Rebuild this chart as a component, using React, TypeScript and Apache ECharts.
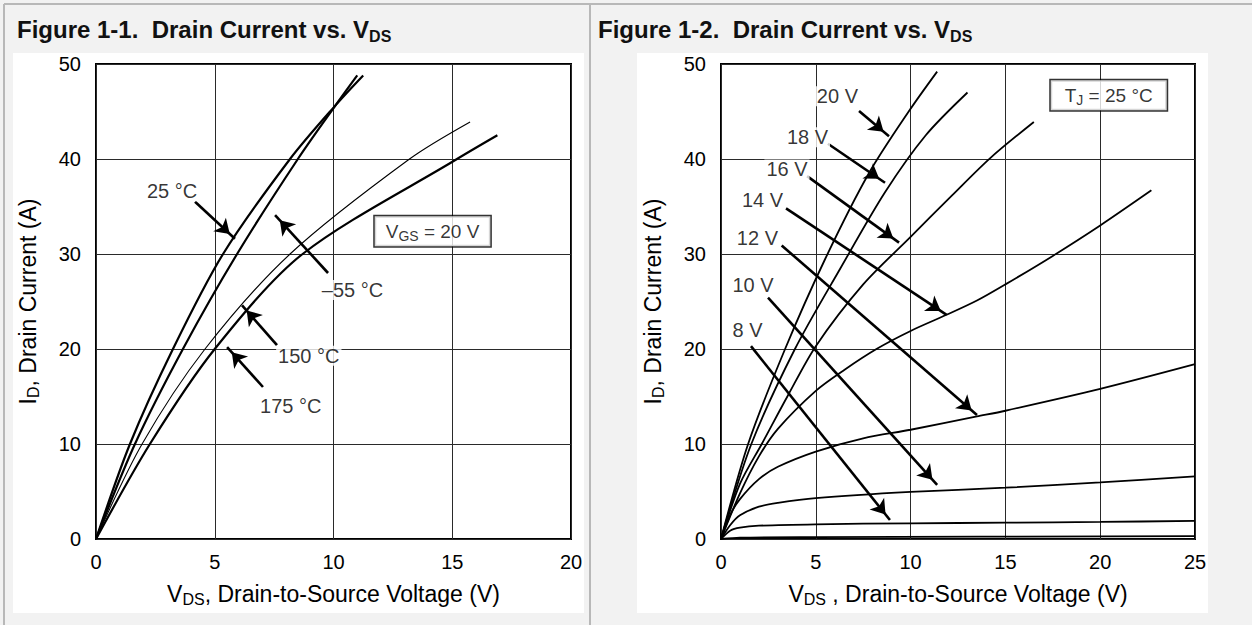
import React, { useEffect, useRef } from "react";
import * as echarts from "echarts";

const FONT = "'Liberation Sans', Arial, Helvetica, sans-serif";

// ---------- Figure 1-1 : I_D vs V_DS at V_GS = 20 V, by junction temperature ----------
const fig1XMax = 20;
const curveMinus55 = [[0, 0], [1.64, 10], [3.66, 20], [5.94, 30], [8.5, 40], [10.1, 45.7], [11.0, 48.8]];
const curve25 = [[0, 0], [1.43, 10], [3.24, 20], [5.35, 30], [8.17, 40], [10.1, 45.7], [11.25, 48.8]];
const curve150 = [[0, 0], [1.94, 10], [4.59, 20], [8.17, 30], [13.2, 40], [15.75, 43.9]];
const curve175 = [[0, 0], [2.27, 10], [5.0, 20], [8.7, 30], [15.2, 40], [16.9, 42.5]];
const fig1LabelText = ["25 °C", "–55 °C", "150 °C", "175 °C"];
const fig1LabelPos = [[3.2, 36.6], [10.8, 26.2], [8.96, 19.3], [8.2, 14.0]];
const fig1Arrows = [[4.17, 35.5, 5.85, 31.6], [9.77, 28.0, 7.54, 34.1], [7.62, 20.4, 6.15, 24.6], [7.03, 16.0, 5.52, 20.2]];
const fig1BoxPos = [14.17, 32.4];

// ---------- Figure 1-2 : I_D vs V_DS at T_J = 25 °C, by gate voltage ----------
const fig2XMax = 25;
const curve20V = [[0, 0], [1.43, 10], [3.38, 20], [5.5, 29.5], [7.8, 38.5], [9.9, 45], [11.4, 49.2]];
const curve18V = [[0, 0], [1.6, 10], [3.9, 20], [6.3, 28.5], [8.65, 36.5], [10.8, 42.5], [13, 47]];
const curve16V = [[0, 0], [1, 5.8], [2.15, 10], [3.5, 15], [5, 20.3], [7.5, 26.8], [10, 31.8], [12.2, 36.2], [14.2, 40.1], [16.5, 43.9]];
const curve14V = [[0, 0], [1, 4.8], [2, 8.7], [3, 11.6], [5, 15.6], [6.5, 17.8], [8.2, 20], [10, 21.9], [11.9, 23.6], [13.5, 25.1], [15, 26.8], [17.5, 29.8], [20, 33.0], [22.7, 36.7]];
const curve12V = [[0, 0], [0.5, 2.6], [1, 4.2], [2, 6.3], [3, 7.6], [5, 9.2], [7.5, 10.6], [10, 11.5], [13.5, 12.9], [15, 13.5], [20, 15.8], [25, 18.4]];
const curve10V = [[0, 0], [0.5, 1.5], [1, 2.5], [2, 3.4], [3, 3.8], [5, 4.3], [10, 4.95], [15, 5.4], [20, 5.95], [25, 6.6]];
const curve8V = [[0, 0], [0.5, 0.9], [1, 1.2], [2, 1.4], [5, 1.55], [10, 1.65], [15, 1.72], [20, 1.8], [25, 1.9]];
const curve6V = [[0, 0], [1, 0.15], [5, 0.2], [25, 0.3]];
const fig2LabelText = ["20 V", "18 V", "16 V", "14 V", "12 V", "10 V", "8 V"];
const fig2LabelPos = [[6.14, 46.6], [4.56, 42.3], [3.48, 38.9], [2.19, 35.7], [1.92, 31.7], [1.69, 26.7], [1.4, 22.05]];
const fig2Arrows = [
  [7.28, 45.05, 8.86, 42.4],
  [5.64, 41.6, 8.65, 37.5],
  [4.54, 38.2, 9.39, 31.2],
  [3.43, 34.8, 11.9, 23.6],
  [3.2, 30.9, 13.5, 13.05],
  [2.48, 25.4, 11.4, 5.7],
  [1.58, 20.3, 8.91, 2.0],
];
const fig2BoxPos = [20.45, 46.7];

const yMax = 50;
const tickStep = 5;
const yStep = 10;

function curve(name: string, data: number[][], idx: number, width: number) {
  return {
    type: "line",
    name,
    xAxisIndex: idx,
    yAxisIndex: idx,
    data,
    symbol: "none",
    showSymbol: false,
    smooth: 0.3,
    silent: true,
    z: 3,
    lineStyle: { color: "#000", width },
  };
}

function arrows(list: number[][], idx: number) {
  return {
    type: "line",
    xAxisIndex: idx,
    yAxisIndex: idx,
    data: [],
    silent: true,
    color: "#000",
    markLine: {
      silent: true,
      animation: false,
      symbol: ["none", "arrow"],
      symbolSize: 14,
      symbolOffset: [0, [0, 7]],
      label: { show: false },
      lineStyle: { color: "#000", width: 2.6, type: "solid" },
      itemStyle: { color: "#000" },
      data: list.map((a) => [{ coord: [a[0], a[1]] }, { coord: [a[2], a[3]] }]),
    },
  };
}

const labelRich = {
  m: { fontSize: 19, lineHeight: 24, fontFamily: FONT, color: "#000" },
  s: { fontSize: 14, lineHeight: 14, padding: [9, 0, 0, 0], fontFamily: FONT, color: "#000" },
};

function labels(texts: string[], pos: number[][], idx: number, box: number[], boxText: string, boxPad: number) {
  const items: any[] = texts.map((t, i) => ({ value: pos[i], label: { formatter: t } }));
  items.push({
    value: box,
    label: {
      formatter: boxText,
      backgroundColor: "#fff",
      borderColor: "#000",
      borderWidth: 1.5,
      padding: [3, boxPad, 3, boxPad],
      rich: labelRich,
    },
  });
  return {
    type: "scatter",
    xAxisIndex: idx,
    yAxisIndex: idx,
    symbolSize: 1,
    silent: true,
    z: 6,
    itemStyle: { color: "rgba(0,0,0,0)" },
    label: {
      show: true,
      position: "inside",
      color: "#000",
      fontSize: 20,
      fontFamily: FONT,
      backgroundColor: "#fff",
      padding: [0, 2],
    },
    data: items,
  };
}

const nameRich = {
  m: { fontSize: 23, lineHeight: 28, fontFamily: FONT, color: "#000" },
  s: { fontSize: 16, lineHeight: 16, padding: [11, 0, 0, 0], fontFamily: FONT, color: "#000" },
};

function xAxis(idx: number, max: number, name: string) {
  return {
    type: "value",
    gridIndex: idx,
    min: 0,
    max,
    interval: tickStep,
    name,
    nameLocation: "middle",
    nameGap: 41,
    nameTextStyle: { rich: nameRich },
    axisLine: { show: false },
    axisTick: { show: false },
    axisLabel: { color: "#000", fontSize: 20, fontFamily: FONT, margin: 13 },
    splitLine: { show: true, lineStyle: { color: "#2a2a2a", width: 1 } },
  };
}

function yAxis(idx: number) {
  return {
    type: "value",
    gridIndex: idx,
    min: 0,
    max: yMax,
    interval: yStep,
    name: "{m|I}{s|D}{m|, Drain Current (A)}",
    nameLocation: "middle",
    nameGap: 54,
    nameTextStyle: { rich: nameRich },
    axisLine: { show: false },
    axisTick: { show: false },
    axisLabel: { color: "#000", fontSize: 20, fontFamily: FONT, margin: 15 },
    splitLine: { show: true, lineStyle: { color: "#2a2a2a", width: 1 } },
  };
}

const titleRich = {
  b: { fontSize: 24, lineHeight: 30, fontWeight: "bold", fontFamily: FONT, fill: "#111" },
  s: { fontSize: 16, lineHeight: 16, padding: [14, 0, 0, 0], fontWeight: "bold", fontFamily: FONT, fill: "#111" },
};

const option: any = {
  animation: false,
  backgroundColor: "#f2f2f2",
  graphic: [
    { type: "rect", z: -50, shape: { x: 13, y: 53, width: 571, height: 560 }, style: { fill: "#fff" }, silent: true },
    { type: "rect", z: -50, shape: { x: 637, y: 53, width: 571, height: 560 }, style: { fill: "#fff" }, silent: true },
    { type: "line", z: -40, shape: { x1: 4, y1: 4, x2: 1252, y2: 4 }, style: { stroke: "#b8b8b8", lineWidth: 2 }, silent: true },
    { type: "line", z: -40, shape: { x1: 4, y1: 4, x2: 4, y2: 625 }, style: { stroke: "#b8b8b8", lineWidth: 2 }, silent: true },
    { type: "line", z: -40, shape: { x1: 590, y1: 4, x2: 590, y2: 625 }, style: { stroke: "#b8b8b8", lineWidth: 2 }, silent: true },
    {
      type: "text",
      left: 17,
      top: 14,
      style: { text: "{b|Figure 1-1.  Drain Current vs. V}{s|DS}", rich: titleRich },
    },
    {
      type: "text",
      left: 598,
      top: 14,
      style: { text: "{b|Figure 1-2.  Drain Current vs. V}{s|DS}", rich: titleRich },
    },
  ],
  grid: [
    { left: 96, top: 64, width: 475, height: 475, show: true, borderColor: "#000", borderWidth: 2, backgroundColor: "#fff" },
    { left: 721, top: 64, width: 474, height: 475, show: true, borderColor: "#000", borderWidth: 2, backgroundColor: "#fff" },
  ],
  xAxis: [
    xAxis(0, fig1XMax, "{m|V}{s|DS}{m|, Drain-to-Source Voltage (V)}"),
    xAxis(1, fig2XMax, "{m|V}{s|DS}{m| , Drain-to-Source Voltage (V)}"),
  ],
  yAxis: [yAxis(0), yAxis(1)],
  series: [
    curve("25 °C", curve25, 0, 2.2),
    curve("–55 °C", curveMinus55, 0, 2.2),
    curve("150 °C", curve150, 0, 1.1),
    curve("175 °C", curve175, 0, 2.2),
    arrows(fig1Arrows, 0),
    labels(fig1LabelText, fig1LabelPos, 0, fig1BoxPos, "{m|V}{s|GS}{m| = 20 V}", 11),
    curve("20 V", curve20V, 1, 1.8),
    curve("18 V", curve18V, 1, 1.8),
    curve("16 V", curve16V, 1, 1.8),
    curve("14 V", curve14V, 1, 1.8),
    curve("12 V", curve12V, 1, 1.8),
    curve("10 V", curve10V, 1, 1.8),
    curve("8 V", curve8V, 1, 1.8),
    curve("6 V", curve6V, 1, 1.8),
    arrows(fig2Arrows, 1),
    labels(fig2LabelText, fig2LabelPos, 1, fig2BoxPos, "{m|T}{s|J}{m| = 25 °C}", 14),
  ],
};

export default function App() {
  const ref = useRef<HTMLDivElement>(null);
  useEffect(() => {
    document.body.style.margin = "0";
    const chart = echarts.init(ref.current!, null, { renderer: "svg" });
    chart.setOption(option);
    return () => chart.dispose();
  }, []);
  return <div ref={ref} style={{ position: "absolute", left: 0, top: 0, width: 1252, height: 625 }} />;
}
